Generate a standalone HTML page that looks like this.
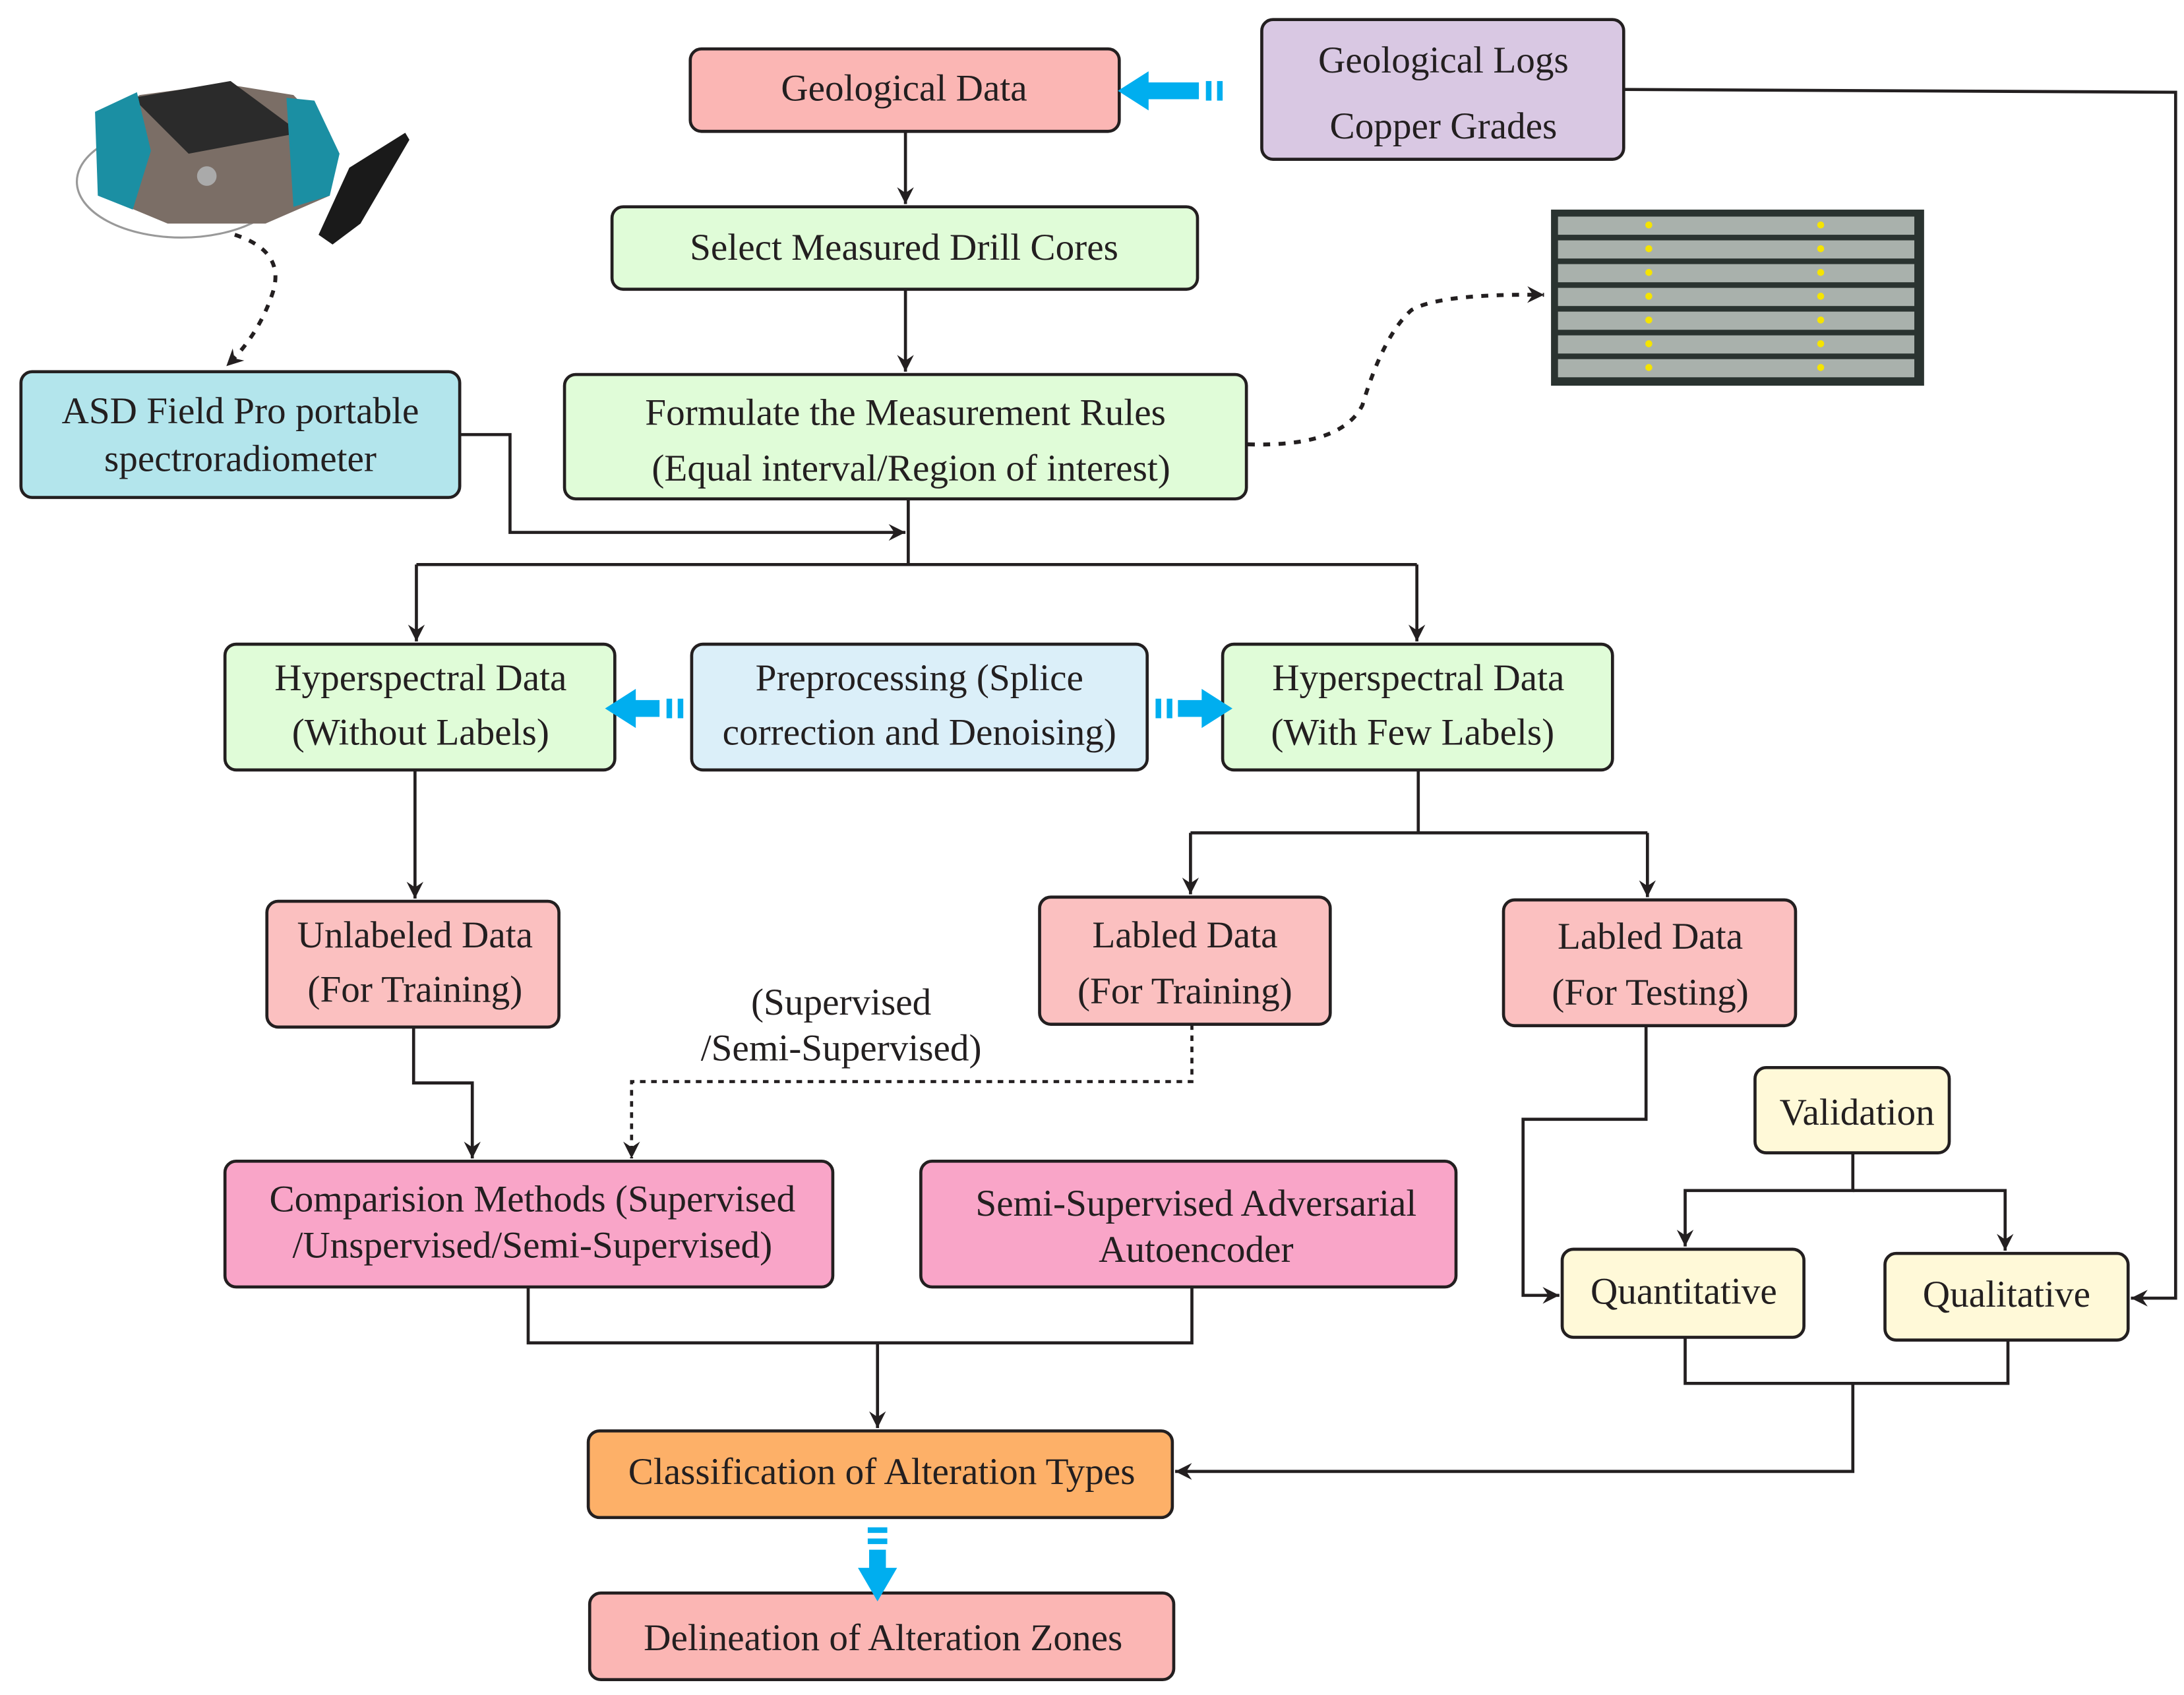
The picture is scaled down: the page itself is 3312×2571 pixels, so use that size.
<!DOCTYPE html>
<html><head><meta charset="utf-8"><style>
html,body{margin:0;padding:0;background:#fff;}
svg{display:block;}
text{font-family:"Liberation Serif",serif;font-size:27px;fill:#231f20;text-anchor:middle;}
</style></head><body>
<svg width="3312" height="2571" viewBox="0 0 1563 1213" preserveAspectRatio="none" xmlns="http://www.w3.org/2000/svg">
<defs>
<marker id="a" markerWidth="14" markerHeight="14" refX="12" refY="7" orient="auto" markerUnits="userSpaceOnUse">
<path d="M0,1 L12,7 L0,13 L4,7 Z" fill="#231f20"/></marker>
</defs>
<g stroke="#231f20" stroke-width="2.2">
<rect x="494" y="35" width="307" height="59" rx="8" fill="#fbb6b4"/>
<rect x="903" y="14" width="259" height="100" rx="8" fill="#d9c8e3"/>
<rect x="438" y="148" width="419" height="59" rx="8" fill="#e0fcd8"/>
<rect x="15" y="266" width="314" height="90" rx="8" fill="#b3e5ec"/>
<rect x="404" y="268" width="488" height="89" rx="8" fill="#e0fcd8"/>
<rect x="161" y="461" width="279" height="90" rx="8" fill="#e0fcd8"/>
<rect x="495" y="461" width="326" height="90" rx="8" fill="#dbeff9"/>
<rect x="875" y="461" width="279" height="90" rx="8" fill="#e0fcd8"/>
<rect x="191" y="645" width="209" height="90" rx="8" fill="#fbc0c0"/>
<rect x="744" y="642" width="208" height="91" rx="8" fill="#fbc0c0"/>
<rect x="1076" y="644" width="209" height="90" rx="8" fill="#fbc0c0"/>
<rect x="1256" y="764" width="139" height="61" rx="8" fill="#fff9d8"/>
<rect x="161" y="831" width="435" height="90" rx="8" fill="#f9a5c8"/>
<rect x="659" y="831" width="383" height="90" rx="8" fill="#f9a5c8"/>
<rect x="1118" y="894" width="173" height="63" rx="8" fill="#fff9d8"/>
<rect x="1349" y="897" width="174" height="62" rx="8" fill="#fff9d8"/>
<rect x="421" y="1024" width="418" height="62" rx="8" fill="#fdb068"/>
<rect x="422" y="1140" width="418" height="62" rx="8" fill="#fbb6b4"/>
</g>
<g fill="none" stroke="#231f20" stroke-width="2.2">
<path d="M648,94 V146" marker-end="url(#a)"/>
<path d="M648,207 V266" marker-end="url(#a)"/>
<path d="M329,311 H365 V381 H648" marker-end="url(#a)"/>
<path d="M650,357 V404"/>
<path d="M298,404 H1014"/>
<path d="M298,404 V459" marker-end="url(#a)"/>
<path d="M1014,404 V459" marker-end="url(#a)"/>
<path d="M297,551 V643" marker-end="url(#a)"/>
<path d="M1015,551 V596 M852,596 H1179"/>
<path d="M852,596 V640" marker-end="url(#a)"/>
<path d="M1179,596 V642" marker-end="url(#a)"/>
<path d="M296,735 V775 H338 V829" marker-end="url(#a)"/>
<path d="M1178,734 V801 H1090 V927 H1116" marker-end="url(#a)"/>
<path d="M1326,825 V852 H1206 V892" marker-end="url(#a)"/>
<path d="M1326,852 H1435 V895" marker-end="url(#a)"/>
<path d="M1162,64 L1557,66 V929 H1525" marker-end="url(#a)"/>
<path d="M378,921 V961 H853 V921 M628,961 V1022" marker-end="url(#a)"/>
<path d="M1206,957 V990 H1437 V959 M1326,990 V1053 H841" marker-end="url(#a)"/>
<path d="M853,733 V774 H452 V829" stroke-dasharray="4,4" marker-end="url(#a)"/>
<path d="M168,168 Q205,180 195,210 Q185,240 162,262" stroke-dasharray="5,6" stroke-width="2.8" marker-end="url(#a)"/>
<path d="M893,318 Q960,320 975,290 Q990,240 1010,222 Q1030,210 1105,211" stroke-dasharray="5,6" stroke-width="2.8" marker-end="url(#a)"/>
</g>
<g fill="#00aeef">
<path d="M800,65 L822,51 V59 H858 V71 H822 V79 Z"/><rect x="863" y="58" width="4" height="14"/><rect x="871" y="58" width="4" height="14"/>
<path d="M433,507 L455,493 V501 H472 V513 H455 V521 Z"/><rect x="477" y="500" width="4" height="14"/><rect x="485" y="500" width="4" height="14"/>
<path d="M882,507 L860,493 V501 H843 V513 H860 V521 Z"/><rect x="835" y="500" width="4" height="14"/><rect x="827" y="500" width="4" height="14"/>
<rect x="621" y="1093" width="14" height="4"/><rect x="621" y="1101" width="14" height="4"/>
<path d="M628,1146 L614,1122 H622 V1109 H634 V1122 H642 Z"/>
</g>
<!-- device -->
<g>
<ellipse cx="130" cy="130" rx="75" ry="40" fill="none" stroke="#999" stroke-width="1.5"/>
<path d="M72,85 L100,68 L160,60 L210,68 L236,95 L236,140 L190,160 L120,160 L72,140 Z" fill="#7b6e66"/>
<path d="M95,70 L165,58 L215,95 L135,110 Z" fill="#2b2b2b"/>
<path d="M68,80 L98,66 L108,108 L95,150 L70,140 Z" fill="#1b8fa3"/>
<path d="M205,70 L225,72 L243,110 L236,140 L210,148 Z" fill="#1b8fa3"/>
<path d="M250,120 L290,95 L293,100 L258,160 L238,175 L228,168 Z" fill="#1a1a1a"/>
<circle cx="148" cy="126" r="7" fill="#aaa"/>
</g>
<!-- drill core image -->
<rect x="1110" y="150" width="267" height="126" fill="#2a3330"/>
<g fill="#a9b1ac">
<rect x="1115" y="155" width="255" height="13"/><rect x="1115" y="172" width="255" height="13"/>
<rect x="1115" y="189" width="255" height="13"/><rect x="1115" y="206" width="255" height="13"/>
<rect x="1115" y="223" width="255" height="13"/><rect x="1115" y="240" width="255" height="13"/>
<rect x="1115" y="257" width="255" height="13"/>
</g>
<g fill="#f5e400">
<circle cx="1180" cy="161" r="2.5"/><circle cx="1303" cy="161" r="2.5"/><circle cx="1180" cy="178" r="2.5"/><circle cx="1303" cy="178" r="2.5"/>
<circle cx="1180" cy="195" r="2.5"/><circle cx="1303" cy="195" r="2.5"/><circle cx="1180" cy="212" r="2.5"/><circle cx="1303" cy="212" r="2.5"/>
<circle cx="1180" cy="229" r="2.5"/><circle cx="1303" cy="229" r="2.5"/><circle cx="1180" cy="246" r="2.5"/><circle cx="1303" cy="246" r="2.5"/>
<circle cx="1180" cy="263" r="2.5"/><circle cx="1303" cy="263" r="2.5"/>
</g>
<text x="647" y="72">Geological Data</text>
<text x="1033" y="52">Geological Logs</text>
<text x="1033" y="99">Copper Grades</text>
<text x="647" y="186">Select Measured Drill Cores</text>
<text x="172" y="303">ASD Field Pro portable</text>
<text x="172" y="337">spectroradiometer</text>
<text x="648" y="304">Formulate the Measurement Rules</text>
<text x="652" y="344">(Equal interval/Region of interest)</text>
<text x="301" y="494">Hyperspectral Data</text>
<text x="301" y="533">(Without Labels)</text>
<text x="658" y="494">Preprocessing (Splice</text>
<text x="658" y="533">correction and Denoising)</text>
<text x="1015" y="494">Hyperspectral Data</text>
<text x="1011" y="533">(With Few Labels)</text>
<text x="297" y="678">Unlabeled Data</text>
<text x="297" y="717">(For Training)</text>
<text x="848" y="678">Labled Data</text>
<text x="848" y="718">(For Training)</text>
<text x="1181" y="679">Labled Data</text>
<text x="1181" y="719">(For Testing)</text>
<text x="602" y="726">(Supervised</text>
<text x="602" y="759">/Semi-Supervised)</text>
<text x="1329" y="805">Validation</text>
<text x="381" y="867">Comparision Methods (Supervised</text>
<text x="381" y="900">/Unspervised/Semi-Supervised)</text>
<text x="856" y="870">Semi-Supervised Adversarial</text>
<text x="856" y="903">Autoencoder</text>
<text x="1205" y="933">Quantitative</text>
<text x="1436" y="935">Qualitative</text>
<text x="631" y="1062">Classification of Alteration Types</text>
<text x="632" y="1181">Delineation of Alteration Zones</text>
</svg>
</body></html>
